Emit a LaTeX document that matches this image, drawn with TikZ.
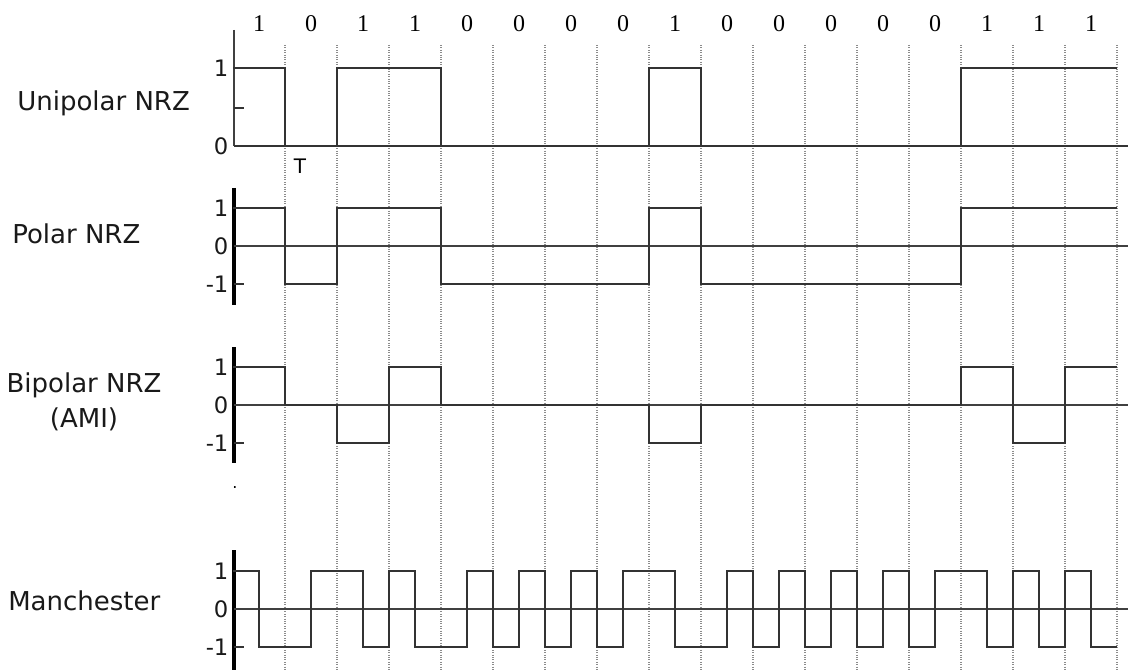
\documentclass[tikz,border=0pt]{standalone}
\usepackage{fontspec}
\setmainfont{Liberation Serif}
\setsansfont{DejaVu Sans}
\usepackage{tikz}

\begin{document}
\begin{tikzpicture}[
    x=0.75pt, y=-0.75pt,
    gridline/.style={black!45, densely dotted, line width=0.8pt},
    signal/.style={black!80, line width=1.6pt},
    axisline/.style={black, line width=2.6pt},
    thinaxis/.style={black!75, line width=1.8pt},
    zeroline/.style={black!75, line width=1.1pt},
    tickmark/.style={black!80, line width=1.1pt},
    codename/.style={font=\sffamily\fontsize{19.5}{23}\selectfont, text=black!90, anchor=base west, inner sep=0pt},
    lvl/.style={font=\sffamily\fontsize{17}{19}\selectfont, text=black!90, anchor=east, inner sep=1pt},
    bitlabel/.style={font=\fontsize{18}{20}\selectfont, inner sep=0pt}
]
\useasboundingbox (0,0) rectangle (1128,670);

\foreach \k in {1,...,17}
    \draw[gridline] ({233+52*\k},45) -- ({233+52*\k},670);
\foreach \b [count=\k from 0] in {1,0,1,1,0,0,0,0,1,0,0,0,0,0,1,1,1}
    \node[bitlabel] (bit\k) at ({259+52*\k},24) {\b};

% unipolar NRZ
\node[codename] (uninrz) at (17,111) {Unipolar NRZ};
\draw[thinaxis] (234,30) -- (234,146);
\foreach \y in {68,108,146}
    \draw[tickmark] (234,\y) -- (244,\y);
\node[lvl] (uone) at (230,68) {1};
\node[lvl] (uzero) at (230,146) {0};
\node[font=\sffamily\fontsize{15}{17}\selectfont] (tmark) at (300,166) {T};
\draw[signal] (234,146) -- (1128,146);
\draw[signal] (234,68) \foreach \b [count=\k from 0] in {1,0,1,1,0,0,0,0,1,0,0,0,0,0,1,1,1}
    { -- ({233+52*\k},{146-78*\b}) -- ({285+52*\k},{146-78*\b}) };

% polar NRZ
\node[codename] (polnrz) at (12,244) {Polar NRZ};
\draw[axisline] (234,188) -- (234,305);
\foreach \y in {208,246,284}
    \draw[tickmark] (234,\y) -- (244,\y);
\node[lvl] (pone) at (230,208) {1};
\node[lvl] (pzero) at (230,246) {0};
\node[lvl] (pmone) at (230,284) {-1};
\draw[zeroline] (234,246) -- (1128,246);
\draw[signal] (234,208) \foreach \b [count=\k from 0] in {1,0,1,1,0,0,0,0,1,0,0,0,0,0,1,1,1}
    { -- ({233+52*\k},{246-38*(2*\b-1)}) -- ({285+52*\k},{246-38*(2*\b-1)}) };

% bipolar NRZ (AMI)
\node[codename, anchor=base] (bipnrz) at (84,392) {Bipolar NRZ};
\node[codename, anchor=base] (ami) at (84,427) {(AMI)};
\draw[axisline] (234,347) -- (234,463);
\foreach \y in {367,405,443}
    \draw[tickmark] (234,\y) -- (244,\y);
\node[lvl] (bone) at (230,367) {1};
\node[lvl] (bzero) at (230,405) {0};
\node[lvl] (bmone) at (230,443) {-1};
\node[inner sep=0pt, font=\sffamily\large] (dot) at (235,488) {.};
\draw[zeroline] (234,405) -- (1128,405);
\draw[signal] (234,367) \foreach \v [count=\k from 0] in {1,0,-1,1,0,0,0,0,-1,0,0,0,0,0,1,-1,1}
    { -- ({233+52*\k},{405-38*\v}) -- ({285+52*\k},{405-38*\v}) };

% manchester
\node[codename] (manch) at (8,610) {Manchester};
\draw[axisline] (234,550) -- (234,670);
\foreach \y in {571,609,647}
    \draw[tickmark] (234,\y) -- (244,\y);
\node[lvl] (mone) at (230,571) {1};
\node[lvl] (mzero) at (230,609) {0};
\node[lvl] (mmone) at (230,647) {-1};
\draw[zeroline] (234,609) -- (1128,609);
\draw[signal] (234,571) \foreach \b [count=\k from 0] in {1,0,1,1,0,0,0,0,1,0,0,0,0,0,1,1,1}
    { -- ({233+52*\k},{609-38*(2*\b-1)}) -- ({259+52*\k},{609-38*(2*\b-1)})
      -- ({259+52*\k},{609+38*(2*\b-1)}) -- ({285+52*\k},{609+38*(2*\b-1)}) };
\end{tikzpicture}
\end{document}
